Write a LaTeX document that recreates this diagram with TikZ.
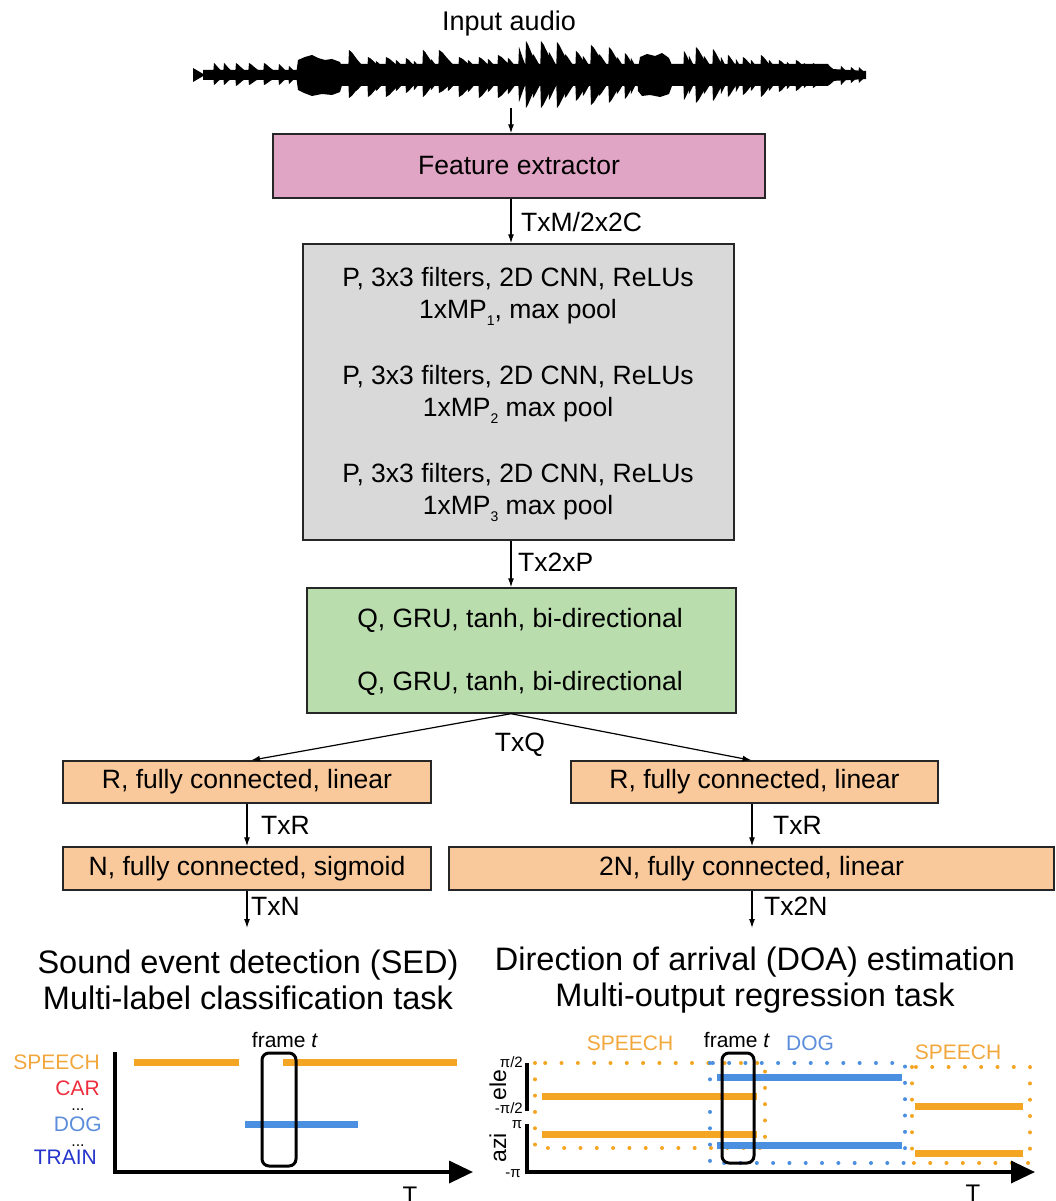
\documentclass[tikz,border=0pt]{standalone}
\usepackage{fontspec}
\setmainfont{Liberation Sans}
\usetikzlibrary{arrows.meta}

\definecolor{featpink}{HTML}{E0A4C4}
\definecolor{cnngray}{HTML}{D9D9D9}
\definecolor{grugreen}{HTML}{BADDAE}
\definecolor{fcpeach}{HTML}{F9C99B}
\definecolor{evorange}{HTML}{F5A524}
\definecolor{evblue}{HTML}{4A8FE0}
\definecolor{txtorange}{HTML}{F2A73C}
\definecolor{txtred}{HTML}{EE2D3D}
\definecolor{txtblue}{HTML}{5B8DDB}
\definecolor{txtdblue}{HTML}{2433CC}

\newcommand\lowsub[1]{\raisebox{-7pt}{\fontsize{14}{14}\selectfont #1}}

\tikzset{
  layer/.style={draw=black!85, line width=1.4pt, inner sep=0pt},
  boxtext/.style={font=\fontsize{26.5}{32}\selectfont, align=center, inner sep=0pt},
  flow/.style={-{Latex[length=9pt,width=6pt]}, line width=1.2pt},
  dimlabel/.style={font=\fontsize{26.5}{32}\selectfont, anchor=west, inner sep=0pt},
  tasktitle/.style={font=\fontsize{32.5}{36}\selectfont, align=center, inner sep=0pt},
  plottext/.style={font=\fontsize{21}{24}\selectfont, inner sep=0pt},
  ellipsistext/.style={font=\fontsize{16}{16}\selectfont, inner sep=0pt, anchor=base},
  ticktext/.style={font=\fontsize{15}{15}\selectfont, inner sep=0pt},
  eventbar/.style={line width=7pt},
  framebox/.style={draw, line width=3pt, rounded corners=7pt},
  plotaxis/.style={line width=3.5pt, line join=miter},
  dotbox/.style={line width=4pt, dash pattern=on 0.01pt off 16.3pt, line cap=round},
}

\begin{document}
\begin{tikzpicture}[x=1pt,y=-1pt]
\useasboundingbox (0,0) rectangle (1055,1201);

% ---------- input waveform ----------
\node[font=\fontsize{27}{30}\selectfont, inner sep=0pt] (inlabel) at (509,24) {Input audio};
\begin{scope}[fill=black]
  % leading pulse and carrier band
  \fill (193,68) -- (205,75) -- (193,82) -- cycle;
  \fill (203,70) -- (298,70) -- (300,64) -- (828,64) -- (832,69) -- (866,71)
        -- (866,79) -- (832,81) -- (828,86) -- (300,86) -- (298,80) -- (203,80) -- cycle;
  % individual bursts: onset x / upper peak / lower peak / decay length
  \foreach \x/\a/\b/\w in {
      213/12/10/9, 223/12/10/9, 235/12/11/11, 248/12/10/12, 263/12/10/12, 278/11/10/9,
      288/9/9/8,
      348/25/23/16, 367/18/22/16, 385/18/22/18, 405/17/18/14, 422/25/22/14,
      438/25/18/18, 458/18/22/18, 478/18/23/16, 497/20/23/18, 518/28/27/8,
      525/34/33/12, 540/34/33/14, 556/33/33/14, 575/24/26/14, 590/30/30/16,
      608/28/28/14, 624/22/24/12,
      683/24/25/10, 695/28/28/14, 712/26/26/12, 727/20/22/12, 742/18/20/14,
      760/20/22/14, 778/15/17/14, 795/15/16/14, 812/12/13/12, 828/9/10/10,
      840/9/10/8, 850/8/8/8, 858/8/8/7,
      355/15/16/12, 375/14/16/12, 395/15/16/12, 413/14/15/10, 430/16/15/10,
      447/15/16/12, 467/15/17/12, 487/16/17/12, 507/17/19/12, 532/21/23/10,
      548/23/25/10, 564/21/23/12, 582/19/21/10, 598/21/21/12, 616/18/19/10,
      630/17/19/8, 688/19/19/8, 703/19/19/10, 720/18/19/8, 735/16/17/8,
      750/15/16/10, 768/15/16/10, 786/13/14/10, 803/12/13/10, 820/10/11/8}
  {
    \fill (\x,75) -- (\x+1,75-\a) -- (\x+0.25*\w,75-0.9*\a) -- (\x+0.6*\w,75-0.6*\a)
          -- (\x+\w,75-0.3*\a) -- (\x+\w,75+0.3*\b) -- (\x+0.6*\w,75+0.6*\b)
          -- (\x+0.25*\w,75+0.9*\b) -- (\x+1,75+\b) -- cycle;
  }
  % dense voiced stretches
  \fill (296,75) -- (298,60) -- (305,57) -- (312,55) -- (318,58) -- (325,60)
        -- (332,59) -- (340,62) -- (345,75) -- (340,92) -- (332,95) -- (322,94)
        -- (312,96) -- (304,93) -- (298,90) -- cycle;
  \fill (637,75) -- (640,57) -- (647,54) -- (655,56) -- (662,53) -- (669,58)
        -- (676,75) -- (669,94) -- (660,97) -- (650,95) -- (642,96) -- (638,91) -- cycle;
\end{scope}
\coordinate (wavebot) at (511,108);

% ---------- network layers ----------
\node[layer, fill=featpink, minimum width=492pt, minimum height=64pt] (feat) at (519,166) {};
\node[boxtext] (feattext) at (feat.center) {Feature extractor};

\node[layer, fill=cnngray, minimum width=431pt, minimum height=296pt] (cnn) at (518.5,392) {};
\node[boxtext] (cnn1) at (518,296) {P, 3x3 filters, 2D CNN, ReLUs\\1xMP\lowsub{1}, max pool};
\node[boxtext] (cnn2) at (518,394) {P, 3x3 filters, 2D CNN, ReLUs\\1xMP\lowsub{2} max pool};
\node[boxtext] (cnn3) at (518,492) {P, 3x3 filters, 2D CNN, ReLUs\\1xMP\lowsub{3} max pool};

\node[layer, fill=grugreen, minimum width=429pt, minimum height=125pt] (gru) at (521.5,650.5) {};
\node[boxtext] (gru1) at (520,620) {Q, GRU, tanh, bi-directional};
\node[boxtext] (gru2) at (520,683) {Q, GRU, tanh, bi-directional};

\node[layer, fill=fcpeach, minimum width=368pt, minimum height=42pt] (rl) at (247,782) {};
\node[boxtext] at (rl.center) {R, fully connected, linear};
\node[layer, fill=fcpeach, minimum width=368pt, minimum height=43pt] (nl) at (247,868.5) {};
\node[boxtext] at (nl.center) {N, fully connected, sigmoid};

\node[layer, fill=fcpeach, minimum width=367pt, minimum height=42pt] (rr) at (754.5,782) {};
\node[boxtext] at (rr.center) {R, fully connected, linear};
\node[layer, fill=fcpeach, minimum width=605pt, minimum height=43pt] (nr) at (751.5,868.5) {};
\node[boxtext] at (nr.center) {2N, fully connected, linear};

\coordinate (sedout) at (247,928);
\coordinate (doaout) at (752,928);

% ---------- connectors ----------
\draw[flow] (wavebot) -- (wavebot |- feat.north);
\draw[flow] (feat.south -| wavebot) -- (cnn.north -| wavebot);
\draw[flow] (cnn.south -| wavebot) -- (gru.north -| wavebot);
\draw[flow] (gru.south -| wavebot) -- ([xshift=4pt]rl.north);
\draw[flow] (gru.south -| wavebot) -- ([xshift=-3pt]rr.north);
\draw[flow] (rl.south) -- (nl.north);
\draw[flow] (nl.south) -- (sedout);
\draw[flow] (rr.south -| doaout) -- (nr.north -| doaout);
\draw[flow] (nr.south -| doaout) -- (doaout);

\node[dimlabel] at (521,222) {TxM/2x2C};
\node[dimlabel] at (518,562) {Tx2xP};
\node[dimlabel, anchor=center] at (520,745) {TxQ};
\node[dimlabel] at (261,825) {TxR};
\node[dimlabel] at (251,906) {TxN};
\node[dimlabel] at (773,825) {TxR};
\node[dimlabel] at (764,906) {Tx2N};

% ---------- task titles ----------
\node[tasktitle] (sedtitle) at (248,980) {Sound event detection (SED)\\Multi-label classification task};
\node[tasktitle] (doatitle) at (755,980) {Direction of arrival (DOA) estimation\\Multi-output regression task};

% ---------- SED activity plot ----------
\node[plottext, text=txtorange, anchor=east] at (100,1062) {SPEECH};
\node[plottext, text=txtred, anchor=east] at (100,1088) {CAR};
\node[ellipsistext] at (78,1110) {...};
\node[plottext, text=txtblue, anchor=east] at (102,1124) {DOG};
\node[ellipsistext] at (78,1146) {...};
\node[plottext, text=txtdblue, anchor=east] at (97,1157) {TRAIN};

\draw[eventbar, evorange] (134,1062) -- (239,1062);
\draw[eventbar, evorange] (283,1062) -- (457,1062);
\draw[eventbar, evblue] (245,1124) -- (358,1124);
\draw[framebox] (262,1053) rectangle (296,1166);
\node[plottext] at (285,1040) {frame \textit{t}};
\draw[plotaxis, -{Triangle[length=24pt,width=22pt]}] (115,1052) -- (115,1172) -- (473,1172);
\node[font=\fontsize{24}{24}\selectfont, inner sep=0pt] at (410,1195) {T};

% ---------- DOA trajectory plot ----------
\draw[dotbox, evorange] (535,1063) rectangle (765,1148);
\draw[dotbox, evblue] (710,1063) rectangle (905,1163);
\draw[dotbox, evorange] (912,1067) rectangle (1030,1163);

\draw[eventbar, evorange] (542,1096) -- (757,1096);
\draw[eventbar, evorange] (542,1134) -- (757,1134);
\draw[eventbar, evblue] (717,1077) -- (902,1077);
\draw[eventbar, evblue] (717,1145) -- (902,1145);
\draw[eventbar, evorange] (915,1106) -- (1023,1106);
\draw[eventbar, evorange] (915,1153) -- (1023,1153);

\draw[framebox] (722,1053) rectangle (754,1163);
\node[plottext] at (737,1040) {frame \textit{t}};
\node[plottext, text=txtorange] at (630,1043) {SPEECH};
\node[plottext, text=txtblue] at (810,1043) {DOG};
\node[plottext, text=txtorange] at (958,1052) {SPEECH};

\draw[plotaxis] (527,1063) -- (527,1111);
\draw[plotaxis, -{Triangle[length=24pt,width=22pt]}] (527,1124) -- (527,1172) -- (1035,1172);
\node[ticktext, anchor=east] at (523,1062) {π/2};
\node[ticktext, anchor=east] at (523,1108) {-π/2};
\node[ticktext] at (517,1125) {π};
\node[ticktext, anchor=east] at (521,1174) {-π};
\node[font=\fontsize{23}{23}\selectfont, inner sep=0pt, rotate=90] at (498,1085) {ele};
\node[font=\fontsize{23}{23}\selectfont, inner sep=0pt, rotate=90] at (498,1148) {azi};
\node[font=\fontsize{24}{24}\selectfont, inner sep=0pt] at (973,1193) {T};
\end{tikzpicture}
\end{document}
